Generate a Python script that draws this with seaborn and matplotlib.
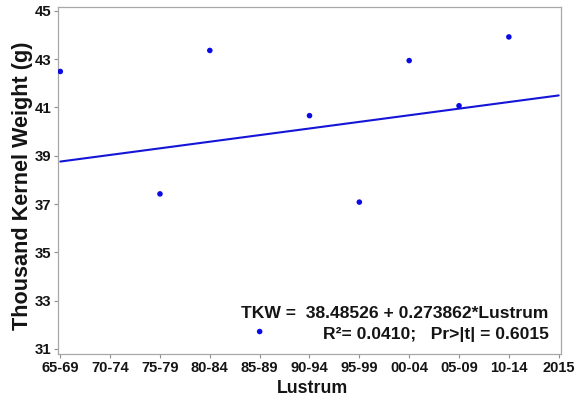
import matplotlib
matplotlib.use("Agg")
import matplotlib.pyplot as plt
import numpy as np
import pandas as pd
import seaborn as sns

# Data
lustrum_labels = ["65-69", "70-74", "75-79", "80-84", "85-89", "90-94",
                  "95-99", "00-04", "05-09", "10-14", "2015"]
point_labels = ["65-69", "75-79", "80-84", "85-89", "90-94",
                "95-99", "00-04", "05-09", "10-14"]
tkw = [42.49, 37.42, 43.36, 31.72, 40.66, 37.08, 42.94, 41.07, 43.92]
intercept = 38.48526
slope = 0.273862

df = pd.DataFrame({"lustrum": point_labels, "tkw": tkw})
df["pos"] = [lustrum_labels.index(l) for l in df["lustrum"]]

fit_x = np.arange(len(lustrum_labels))
fit = pd.DataFrame({"pos": fit_x, "tkw": intercept + slope * (fit_x + 1)})

sns.set_style("white")
plt.rcParams["font.family"] = ["Liberation Sans", "DejaVu Sans"]
plt.rcParams["font.weight"] = "bold"
txt = "#141414"
plt.rcParams["text.color"] = txt
plt.rcParams["axes.labelcolor"] = txt
plt.rcParams["xtick.labelcolor"] = txt
plt.rcParams["ytick.labelcolor"] = txt

fig = plt.figure(figsize=(5.87, 4.04), dpi=100)
ax = fig.add_axes([0.0988, 0.1238, 0.8569, 0.8589])

sns.lineplot(data=fit, x="pos", y="tkw", color="#1515d8", linewidth=1.5, ax=ax)
sns.scatterplot(data=df, x="pos", y="tkw", color="#0a0ae6", s=16,
                edgecolor="none", ax=ax, zorder=3)

ax.set_xlim(-0.046, 10.046)
ax.set_ylim(30.79, 45.16)
ax.set_xticks(range(len(lustrum_labels)))
ax.set_xticklabels(lustrum_labels, fontsize=10.5, fontweight="bold")
ax.set_yticks(range(31, 46, 2))
ax.set_yticklabels([str(v) for v in range(31, 46, 2)], fontsize=10.8, fontweight="bold")
ax.tick_params(axis="both", direction="out", length=3, width=0.8,
               color="#909090", pad=2, bottom=True, left=True)

for sp in ax.spines.values():
    sp.set_color("#a8a8a8")
    sp.set_linewidth(0.9)

ax.set_xlabel("Lustrum", fontsize=12.8, fontweight="bold")
ax.set_ylabel("Thousand Kernel Weight (g)", fontsize=15.6, fontweight="bold")
ax.xaxis.set_label_coords(0.506, -0.076)
ax.yaxis.set_label_coords(-0.05, 0.484)

ax.text(0.975, 0.103, "TKW =  38.48526 + 0.273862*Lustrum",
        transform=ax.transAxes, ha="right", va="baseline",
        fontsize=12.6, fontweight="bold")
ax.text(0.975, 0.042, "R\u00b2= 0.0410;   Pr>|t| = 0.6015",
        transform=ax.transAxes, ha="right", va="baseline",
        fontsize=12.6, fontweight="bold")

fig.savefig("out.png", dpi=100)
